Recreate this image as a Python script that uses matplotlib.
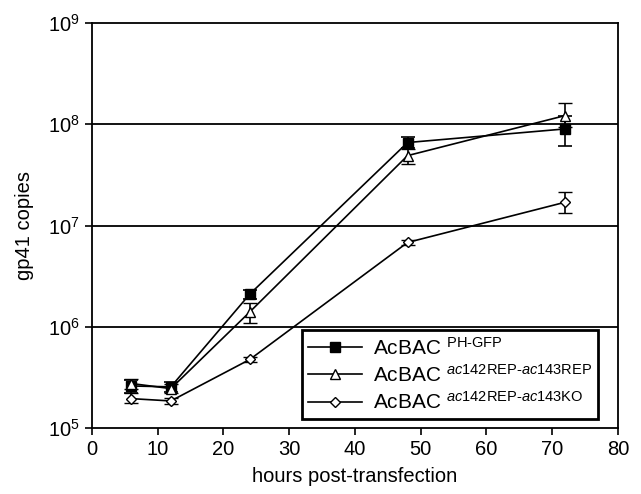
import matplotlib
matplotlib.use("Agg")
import matplotlib.pyplot as plt
from matplotlib.lines import Line2D
from matplotlib.ticker import FixedLocator, NullLocator

plt.rcParams['font.family'] = ['Liberation Sans', 'DejaVu Sans']
plt.rcParams['mathtext.fontset'] = 'custom'
plt.rcParams['mathtext.rm'] = 'Liberation Sans'
plt.rcParams['mathtext.it'] = 'Liberation Sans:italic'
plt.rcParams['mathtext.sf'] = 'Liberation Sans'

# hours post-transfection
hours = [6, 12, 24, 48, 72]

# AcBAC PH-GFP
ph_gfp = [2.6e5, 2.55e5, 2.1e6, 6.6e7, 9.0e7]
ph_gfp_lo = [2.2e5, 2.25e5, 1.9e6, 5.8e7, 6.1e7]
ph_gfp_hi = [3.0e5, 2.85e5, 2.3e6, 7.5e7, 1.2e8]

# AcBAC ac142REP-ac143REP
rep_rep = [2.75e5, 2.45e5, 1.4e6, 4.9e7, 1.22e8]
rep_rep_lo = [2.45e5, 2.2e5, 1.1e6, 4.05e7, 9.5e7]
rep_rep_hi = [3.05e5, 2.7e5, 1.7e6, 5.7e7, 1.62e8]

# AcBAC ac142REP-ac143KO
rep_ko = [1.95e5, 1.85e5, 4.75e5, 6.8e6, 1.7e7]
rep_ko_lo = [1.75e5, 1.72e5, 4.5e5, 6.4e6, 1.32e7]
rep_ko_hi = [2.2e5, 1.98e5, 5.0e5, 7.2e6, 2.15e7]

labels = [r'AcBAC $^{\mathrm{PH\text{-}GFP}}$',
          r'AcBAC $^{\mathit{ac142}\mathrm{REP}\text{-}\mathit{ac143}\mathrm{REP}}$',
          r'AcBAC $^{\mathit{ac142}\mathrm{REP}\text{-}\mathit{ac143}\mathrm{KO}}$']

fig = plt.figure(figsize=(6.41, 4.94), dpi=100)
ax = fig.add_axes([0.1435, 0.1336, 0.8205, 0.8198])


def err(v, lo, hi):
    return [[a - b for a, b in zip(v, lo)], [b - a for a, b in zip(v, hi)]]


styles = [dict(marker='s', markersize=7, markerfacecolor='black'),
          dict(marker='^', markersize=7.5, markerfacecolor='white', markeredgewidth=1.0),
          dict(marker='D', markersize=5.5, markerfacecolor='white', markeredgewidth=1.0)]
series = [(ph_gfp, ph_gfp_lo, ph_gfp_hi), (rep_rep, rep_rep_lo, rep_rep_hi),
          (rep_ko, rep_ko_lo, rep_ko_hi)]

handles = []
for (v, lo, hi), st, lab in zip(series, styles, labels):
    ax.errorbar(hours, v, yerr=err(v, lo, hi), color='black', lw=1.2,
                capsize=5, elinewidth=1.2, capthick=1.2, zorder=3, **st)
    handles.append(Line2D([], [], color='black', lw=1.2, label=lab, **st))

ax.set_yscale('log')
ax.set_ylim(1e5, 1e9)
ax.set_xlim(0, 80)
ax.set_xticks(range(0, 81, 10))
ax.yaxis.set_major_locator(FixedLocator([1e5, 1e6, 1e7, 1e8, 1e9]))
ax.yaxis.set_minor_locator(NullLocator())
ax.set_yticklabels([r'$\mathregular{10^{5}}$', r'$\mathregular{10^{6}}$', r'$\mathregular{10^{7}}$',
                    r'$\mathregular{10^{8}}$', r'$\mathregular{10^{9}}$'])

for yv in [1e6, 1e7, 1e8]:
    ax.axhline(yv, color='black', lw=1.3, zorder=1)

for s in ax.spines.values():
    s.set_linewidth(1.3)
ax.tick_params(direction='out', length=5, width=1.2, labelsize=14.5, colors='black')

ax.set_xlabel('hours post-transfection', fontsize=14.5, labelpad=6)
ax.set_ylabel('gp41 copies', fontsize=14.5, labelpad=10)

leg = ax.legend(handles=handles, loc='lower right', bbox_to_anchor=(0.962, 0.022),
                borderaxespad=0, fontsize=15, frameon=True, fancybox=False,
                edgecolor='black', framealpha=1, handlelength=2.6, borderpad=0.3,
                labelspacing=0.25, handletextpad=0.5)
leg.get_frame().set_linewidth(2.0)

fig.savefig('out.png', dpi=100)
